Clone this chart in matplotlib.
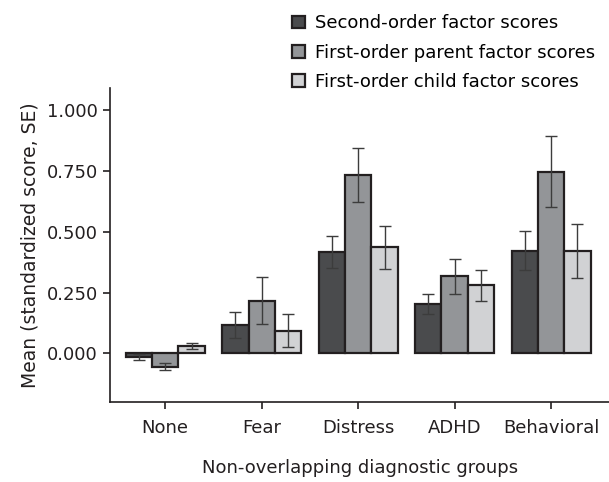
import numpy as np
import matplotlib.pyplot as plt
from matplotlib.patches import Patch

groups = ['None', 'Fear', 'Distress', 'ADHD', 'Behavioral']
series = ['Second-order factor scores', 'First-order parent factor scores',
          'First-order child factor scores']
second_mean = [-0.015, 0.116, 0.418, 0.204, 0.422]
second_se = [0.013, 0.053, 0.066, 0.041, 0.079]
parent_mean = [-0.055, 0.217, 0.733, 0.317, 0.747]
parent_se = [0.015, 0.098, 0.110, 0.072, 0.146]
child_mean = [0.030, 0.093, 0.436, 0.279, 0.421]
child_se = [0.014, 0.068, 0.088, 0.065, 0.110]

colors = ['#4a4b4d', '#939598', '#d1d2d4']
edge = '#231f20'
txt = '#231f20'

plt.rcParams['font.family'] = 'DejaVu Sans'

fig = plt.figure(figsize=(6.09, 4.82), dpi=100)
ax = fig.add_axes([0.181, 0.166, 0.819, 0.651])

x = np.arange(len(groups))
w = 0.273
means = [second_mean, parent_mean, child_mean]
ses = [second_se, parent_se, child_se]
for i in range(3):
	ax.bar(x + (i - 1) * w, means[i], w, color=colors[i], edgecolor=edge, linewidth=1.6)
	ax.errorbar(x + (i - 1) * w, means[i], yerr=ses[i], fmt='none', ecolor='#3c3c3c',
	            elinewidth=1.0, capsize=4, capthick=1.0)

ax.set_xlim(-0.57, 4.6)
ax.set_ylim(-0.2, 1.09)
ax.set_yticks([0, 0.25, 0.5, 0.75, 1.0])
ax.set_yticklabels(['0.000', '0.250', '0.500', '0.750', '1.000'])
ax.set_xticks(x)
ax.set_xticklabels(groups)
for s in ['top', 'right']:
	ax.spines[s].set_visible(False)
for s in ['left', 'bottom']:
	ax.spines[s].set_linewidth(1.2)
	ax.spines[s].set_color(edge)
ax.tick_params(axis='both', labelsize=13, colors=txt, length=5, width=1.2, pad=4)
ax.tick_params(axis='x', pad=7)

ax.set_ylabel('Mean (standardized score, SE)', fontsize=13.5, color=txt, labelpad=5)
ax.set_xlabel('Non-overlapping diagnostic groups', fontsize=13, color=txt, labelpad=16)

handles = [Patch(facecolor=colors[i], edgecolor=edge, linewidth=1.6) for i in range(3)]
fig.legend(handles, series, loc='upper left', bbox_to_anchor=(0.456, 1.0), frameon=False,
           fontsize=13, handlelength=0.7, handleheight=0.7, handletextpad=0.55,
           labelspacing=0.62, borderaxespad=0.4)

plt.savefig('out.png', dpi=100)
plt.close()
